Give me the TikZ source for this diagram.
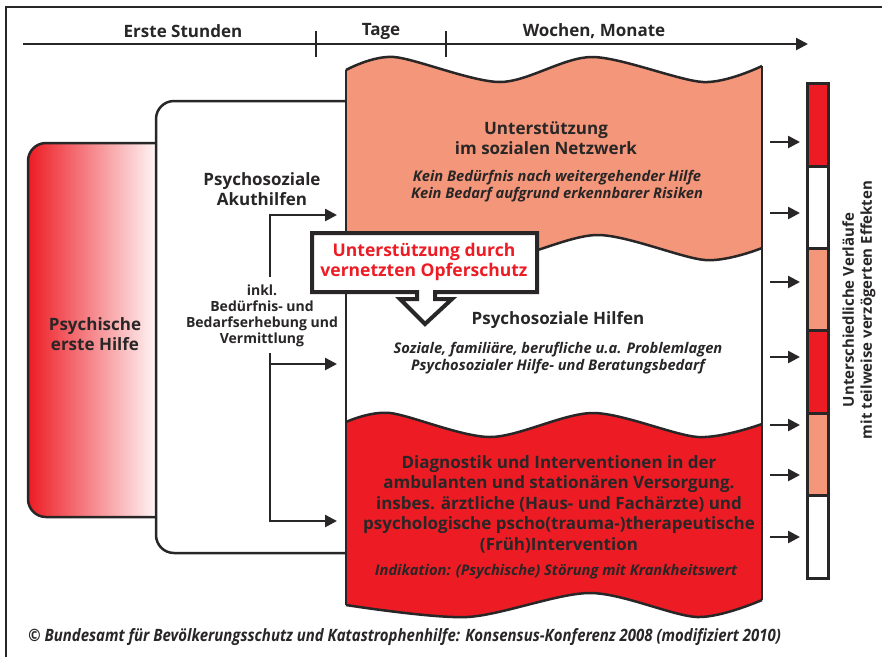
\documentclass[tikz,border=0pt]{standalone}
\usepackage{fontspec}
\setmainfont{Open Sans}
\newfontfamily\quellfont[FakeStretch=0.88]{Open Sans}
\usetikzlibrary{arrows.meta}
\definecolor{lachs}{RGB}{244,150,122}
\definecolor{rot}{RGB}{237,28,36}
\definecolor{dunkel}{RGB}{40,38,38}
\tikzset{
	linie/.style={draw=dunkel,line width=2.5pt},
	pfeil/.style={draw=dunkel,line width=2.5pt,-{Triangle[length=12pt,width=12pt]}},
	fett/.style={font=\bfseries\fontsize{17}{20}\selectfont,text=dunkel,align=center,inner sep=0pt},
	klein/.style={font=\bfseries\fontsize{14}{16}\selectfont,text=dunkel,align=center,inner sep=0pt},
	kursiv/.style={font=\bfseries\itshape\fontsize{14.7}{17.5}\selectfont,text=dunkel,align=center,inner sep=0pt},
}
\begin{document}
\begin{tikzpicture}[x=1pt,y=-1pt]
			\useasboundingbox (0,0) rectangle (882,657);
			\fill[white] (0,0) rectangle (882,657);
			\draw[linie] (6,657) -- (6,7) -- (882,7);

			% Zeitachse
			\coordinate (zeitA) at (23,44);
			\coordinate (zeitB) at (808,44);
			\draw[pfeil] (zeitA) -- (zeitB);
			\draw[linie] (316,31) -- (316,57);
			\draw[linie] (446,31) -- (446,57);
			\node (stunden) at (183,31)[fett]{Erste Stunden};
			\node (tage) at (381,31)[fett]{Tage};
			\node (wochen) at (594,31)[fett]{Wochen, Monate};

			% Psychische erste Hilfe
			\shade[left color=rot,right color=white,rounded corners=18pt] (28,143) rectangle (162,517);
			\draw[linie,rounded corners=18pt] (162,143) -- (28,143) -- (28,517) -- (162,517);
			\node (erste) at (95,334)[fett]{Psychische\\erste Hilfe};

			% Akuthilfen
			\draw[linie,fill=white,rounded corners=18pt] (350,101) -- (156,101) -- (156,553) -- (350,553);
			\node (akut) at (262,189)[fett]{Psychosoziale\\Akuthilfen};
			\node (inkl) at (262,316)[klein]{inkl.\\Bedürfnis- und\\Bedarfserhebung und\\Vermittlung};

			% Baender
			\fill[lachs] plot[smooth] coordinates {(346,70) (394,57) (500,82) (592,57) (703,82) (762,66)}
				-- plot[smooth] coordinates {(762,248) (705,260) (598,235) (497,259) (397,236) (346,245)} -- cycle;
			\fill[white] plot[smooth] coordinates {(346,245) (397,236) (497,259) (598,235) (705,260) (762,248)}
				-- plot[smooth] coordinates {(762,424) (698,437) (593,413) (490,437) (390,413) (346,422)} -- cycle;
			\fill[rot] plot[smooth] coordinates {(346,422) (390,413) (490,437) (593,413) (698,437) (762,424)}
				-- plot[smooth] coordinates {(762,600) (697,617) (590,593) (467,617) (346,605)} -- cycle;
			\draw[linie] plot[smooth] coordinates {(346,70) (394,57) (500,82) (592,57) (703,82) (762,66)};
			\draw[linie] plot[smooth] coordinates {(346,245) (397,236) (497,259) (598,235) (705,260) (762,248)};
			\draw[linie] plot[smooth] coordinates {(346,422) (390,413) (490,437) (593,413) (698,437) (762,424)};
			\draw[linie] plot[smooth] coordinates {(346,605) (467,617) (590,593) (697,617) (762,600)};
			\draw[linie] (346,70) -- (346,605);
			\draw[linie] (762,66) -- (762,600);

			\node (netz) at (546,138)[fett]{Unterstützung\\im sozialen Netzwerk};
			\node (netzinfo) at (557,186)[kursiv]{Kein Bedürfnis nach weitergehender Hilfe\\Kein Bedarf aufgrund erkennbarer Risiken};
			\node (hilfen) at (558,320)[fett]{Psychosoziale Hilfen};
			\node (hilfeninfo) at (558,358)[kursiv]{Soziale, familiäre, berufliche u.a. Problemlagen\\Psychosozialer Hilfe- und Beratungsbedarf};
			\node (versorgung) at (559,504)[fett,font=\bfseries\fontsize{17}{20.5}\selectfont]{Diagnostik und Interventionen in der\\ambulanten und stationären Versorgung.\\insbes. ärztliche (Haus- und Fachärzte) und\\psychologische pscho(trauma-)therapeutische\\(Früh)Intervention};
			\node (indikation) at (556,572)[kursiv]{Indikation: (Psychische) Störung mit Krankheitswert};

			% Pfeile der Akuthilfen
			\coordinate (akutA) at (270,215);
			\coordinate (akutB) at (270,521);
			\coordinate (zielA) at (337,215);
			\coordinate (zielB) at (337,364);
			\coordinate (zielC) at (337,521);
			\draw[pfeil] (270,277) -- (akutA) -- (zielA);
			\draw[pfeil] (270,353) -- (akutB) -- (zielC);
			\draw[pfeil] (270,364) -- (zielB);

			% Opferschutz
			\draw[line width=4pt,draw=dunkel,fill=white] (312,233) -- (537,233) -- (537,292) -- (435,292) -- (435,299) -- (452,299)
				-- (425,324) -- (400,299) -- (417,299) -- (417,292) -- (312,292) -- cycle;
			\node (opfer) at (424,262)[fett,text=rot,font=\bfseries\fontsize{17.5}{20}\selectfont]{Unterstützung durch\\vernetzten Opferschutz};

			% Verlaeufe
			\foreach \oben/\unten/\farbe in {83/166/rot,166/248/white,248/330/lachs,330/413/rot,413/495/lachs,495/578/white}
				\draw[line width=3pt,draw=dunkel,fill=\farbe] (807,\oben) rectangle (828,\unten);
			\foreach \y [count=\i] in {142,213,282,357,425,475,537}{
				\coordinate (aus\i) at (770,\y);
				\coordinate (ein\i) at (800,\y);
				\draw[pfeil] (aus\i) -- (ein\i);
			}
			\node (verlauf) at (859,310)[klein,rotate=90,font=\bfseries\fontsize{15}{18}\selectfont]{Unterschiedliche Verläufe\\mit teilweise verzögerten Effekten};

			\node (quelle) at (28,637)[anchor=west,inner sep=0pt,text=dunkel,font=\quellfont\bfseries\itshape\fontsize{17}{18}\selectfont]{© Bundesamt für Bevölkerungsschutz und Katastrophenhilfe: Konsensus-Konferenz 2008 (modifiziert 2010)};
		\end{tikzpicture}
\end{document}
